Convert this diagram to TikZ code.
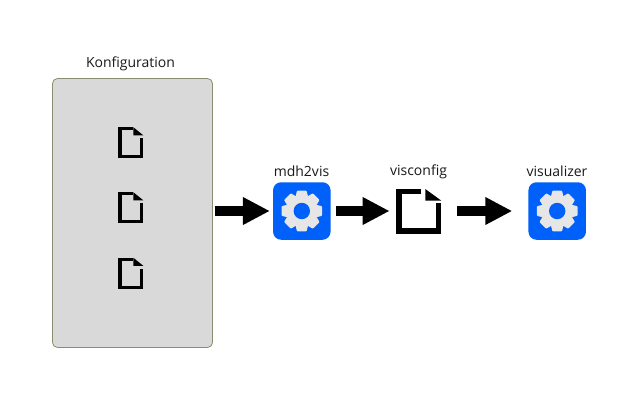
\documentclass[tikz,border=0pt]{standalone}
\usepackage{fontspec}
\setmainfont{Open Sans}
\usetikzlibrary{arrows.meta}
\definecolor{panelfill}{HTML}{D9D9D9}
\definecolor{panelline}{HTML}{8C8C70}
\definecolor{appblue}{HTML}{0060FA}
\definecolor{gearcol}{HTML}{E6E6E6}
\tikzset{
  x=1pt,y=-1pt,
  lbl/.style={inner sep=0pt,font=\fontsize{14pt}{16pt}\selectfont,text=black!90},
  panel/.style={draw=panelline,line width=0.8pt,fill=panelfill,rounded corners=5pt,minimum width=160pt,minimum height=269pt,inner sep=0pt},
  app/.style={fill=appblue,rounded corners=8pt,minimum width=57.5pt,minimum height=57.5pt,inner sep=0pt},
  docbox/.style={inner sep=0pt},
  flow/.style={line width=10pt,-{Triangle[length=27pt,width=26pt]},black},
}
\begin{document}
\begin{tikzpicture}
\useasboundingbox (0,0) rectangle (640,400);
\fill[white] (0,0) rectangle (640,400);
\node[panel] (cfg) at (132.5,213) {};
\node[lbl] (cfgl) at (130.5,63.5) {Konfiguration};
\node[app] (m) at (301.8,211) {};
\node[lbl] (ml) at (301.5,171) {mdh2vis};
\node[docbox,minimum width=46pt,minimum height=46pt] (v) at (418.8,211) {};
\node[lbl] (vl) at (418.5,171.5) {visconfig};
\node[app] (z) at (557.2,211) {};
\node[lbl] (zl) at (557,171.5) {visualizer};
\coordinate (mg) at (m.center);
\coordinate (zg) at (z.center);
% gears
\foreach \g in {mg,zg}{
  \fill[gearcol] (\g) circle (14.8);
  \foreach \k in {0,45,...,315}{
    \fill[gearcol,shift={(\g)},rotate=\k,rounded corners=0.8pt] (13,-6.6) -- (20.3,-4.8) -- (20.3,4.8) -- (13,6.6) -- cycle;
  }
  \fill[appblue] (\g) circle (8.2);
}
% documents
\draw[line width=5.6pt,black,line cap=butt,line join=miter,shift={(v.center)}]
  (2.5,-19.4) -- (-20,-19.4) -- (-20,20.2) -- (19.8,20.2) -- (19.8,-8.5);
\fill[black,shift={(v.center)}] (6.5,-22) -- (22.6,-10.3) -- (6.5,-10.3) -- cycle;
\foreach \n/\y in {d1/142.8,d2/207.8,d3/273.3}{
  \node[docbox,minimum width=25pt,minimum height=31pt] (\n) at (130.8,\y) {};
  \draw[line width=3.2pt,black,line join=miter,shift={(\n.center)}]
    (2,-14) -- (-10.9,-14) -- (-10.9,14) -- (10.9,14) -- (10.9,-4.5);
  \fill[black,shift={(\n.center)}] (2.5,-15.6) -- (12.5,-7.5) -- (2.5,-7.5) -- cycle;
}
% arrows
\draw[flow,shorten <=2pt,shorten >=3pt] (cfg.east |- m.west) -- (m.west);
\draw[flow,shorten <=5pt,shorten >=6pt] (m.east) -- (v.west);
\draw[flow,shorten <=15pt,shorten >=16pt] (v.east) -- (z.west);
\end{tikzpicture}
\end{document}
